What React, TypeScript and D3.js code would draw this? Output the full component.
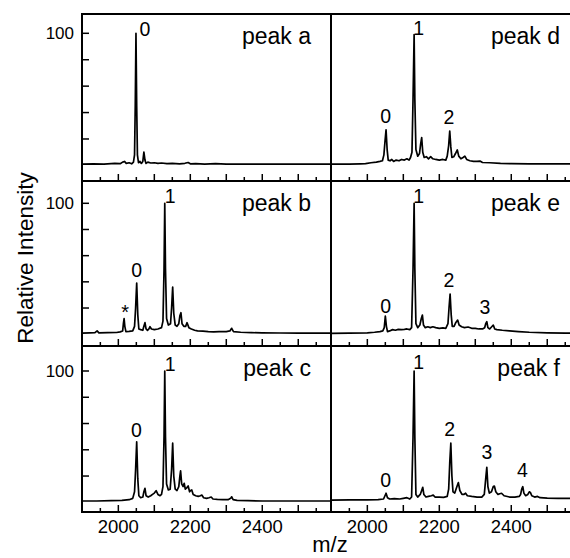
import React from "react";
import * as d3 from "d3";

// ---------- data (m/z, relative intensity) ----------
const spectrumA: [number, number][] = [
  [1900, 1], [1930, 1.2], [1960, 1], [1990, 1.5], [2005, 1.3], [2012, 2.5], [2017, 3], [2022, 1.5],
  [2030, 2], [2037, 1.2], [2042, 2.5], [2045, 8], [2047, 45], [2049, 100], [2051, 45], [2053, 8],
  [2056, 2], [2060, 3], [2064, 1.5], [2068, 3], [2071, 10], [2074, 4], [2077, 1.5], [2082, 2.5],
  [2090, 1.8], [2100, 2], [2110, 1.5], [2120, 1.8], [2135, 1.3], [2150, 1.5], [2170, 1.2], [2185, 1.6],
  [2194, 2.2], [2200, 1.2], [2215, 1.4], [2240, 1], [2270, 1.3], [2300, 1], [2350, 1], [2400, 0.9],
  [2450, 1], [2500, 1], [2600, 1],
];

const spectrumB: [number, number][] = [
  [1900, 0.8], [1920, 1], [1935, 1.2], [1941, 2.5], [1946, 1], [1970, 1.2], [1995, 1.3], [2005, 1.8],
  [2012, 2.5], [2014, 8], [2016, 12], [2018, 6], [2021, 2], [2030, 2.2], [2040, 2.5], [2045, 6],
  [2048, 20], [2051, 39], [2054, 15], [2057, 4], [2062, 3.5], [2068, 3], [2071, 6], [2074, 8.8],
  [2077, 4], [2081, 3], [2085, 4], [2088, 5.7], [2092, 4], [2100, 3.5], [2110, 4], [2120, 5],
  [2124, 10], [2127, 50], [2129, 100], [2131, 50], [2134, 12], [2139, 7], [2145, 8], [2148, 20],
  [2151, 36], [2154, 16], [2158, 7], [2163, 6], [2168, 8], [2171, 14], [2174, 16.4], [2177, 8],
  [2182, 6], [2187, 6], [2191, 8.8], [2196, 5], [2203, 4], [2212, 3], [2220, 2.5], [2235, 2.3],
  [2250, 2], [2265, 1.8], [2280, 2], [2300, 2], [2310, 2.5], [2315, 4.5], [2320, 2], [2340, 1.5],
  [2370, 1.2], [2400, 1], [2450, 0.9], [2500, 0.8], [2600, 0.8],
];

const spectrumC: [number, number][] = [
  [1900, 1], [1940, 1], [1980, 1.2], [2010, 1.5], [2030, 2], [2040, 3], [2045, 8], [2048, 25],
  [2051, 46], [2054, 18], [2057, 5], [2062, 3.5], [2068, 4], [2071, 8], [2074, 10.7], [2077, 5],
  [2083, 4], [2090, 5], [2095, 6], [2100, 7], [2105, 8.8], [2110, 6], [2116, 5], [2120, 6],
  [2124, 12], [2127, 50], [2129, 100], [2131, 50], [2134, 14], [2139, 9.4], [2144, 10], [2148, 25],
  [2151, 45], [2154, 20], [2158, 10], [2163, 9], [2168, 12], [2171, 20], [2173, 24], [2176, 14],
  [2180, 12], [2183, 14.5], [2186, 10], [2190, 11], [2194, 12.4], [2198, 8], [2201, 9], [2204, 9.4],
  [2208, 6], [2215, 5], [2222, 4.5], [2228, 5], [2232, 5.5], [2237, 3.5], [2245, 3], [2252, 3.5],
  [2258, 4], [2263, 2.5], [2275, 2.2], [2290, 2], [2305, 2], [2312, 3], [2315, 4.2], [2319, 2],
  [2330, 1.5], [2360, 1.2], [2400, 1], [2450, 1], [2500, 1], [2600, 1],
];

const spectrumD: [number, number][] = [
  [1900, 1], [1950, 1], [1980, 1.2], [1995, 1.3], [2010, 2], [2025, 2.5], [2035, 3], [2042, 3.5],
  [2046, 8], [2049, 18], [2052, 27], [2055, 12], [2058, 4], [2063, 3.5], [2068, 4.5], [2073, 3],
  [2080, 4], [2088, 3.5], [2095, 4.5], [2103, 4], [2110, 5], [2116, 4], [2120, 6], [2124, 10],
  [2127, 50], [2130, 99], [2132, 50], [2135, 12], [2140, 7], [2145, 9], [2148, 16], [2151, 21],
  [2154, 10], [2158, 6], [2164, 6.6], [2170, 5], [2176, 6.6], [2182, 5], [2190, 4.5], [2200, 4],
  [2210, 4.5], [2218, 4], [2222, 7], [2226, 15], [2229, 26], [2232, 14], [2235, 6], [2240, 6.5],
  [2245, 9], [2250, 11.7], [2254, 7], [2260, 5], [2266, 6], [2271, 7], [2276, 4.5], [2285, 3.5],
  [2295, 3], [2305, 3], [2313, 3.3], [2320, 2.2], [2340, 2], [2370, 1.5], [2400, 1.3], [2450, 1.2],
  [2500, 1.1], [2600, 1.1],
];

const spectrumE: [number, number][] = [
  [1900, 0.7], [1950, 0.8], [2000, 1], [2020, 1.5], [2035, 2], [2043, 2.5], [2047, 5], [2050, 13.9],
  [2053, 6], [2056, 2], [2062, 2.5], [2070, 3.5], [2078, 3], [2086, 3.7], [2095, 3.5], [2103, 3.7],
  [2110, 4], [2118, 3.5], [2123, 5], [2127, 50], [2130, 100], [2132, 50], [2135, 8], [2140, 5],
  [2146, 7], [2150, 12], [2153, 14.6], [2156, 7], [2161, 5], [2168, 5.7], [2175, 5], [2182, 5.7],
  [2190, 5], [2200, 4.5], [2210, 4.8], [2218, 4.5], [2224, 8], [2227, 20], [2230, 30.7], [2233, 15],
  [2236, 6], [2241, 6], [2246, 9], [2251, 10.8], [2255, 7], [2262, 5.7], [2270, 5], [2280, 5.5],
  [2290, 4.5], [2300, 4.5], [2310, 4], [2320, 4], [2326, 5], [2329, 8], [2332, 9.5], [2335, 5],
  [2340, 4], [2345, 5.5], [2350, 7], [2354, 4], [2360, 3.5], [2375, 3], [2395, 2.5], [2420, 2],
  [2450, 1.5], [2500, 1], [2550, 0.8], [2600, 0.7],
];

const spectrumF: [number, number][] = [
  [1900, 1.7], [1950, 1.8], [2000, 1.8], [2030, 2], [2045, 2.5], [2049, 5], [2052, 6.9], [2056, 3.5],
  [2062, 2.5], [2075, 2.8], [2090, 2.5], [2100, 3], [2110, 3.5], [2118, 2.5], [2123, 4], [2127, 50],
  [2130, 100], [2132, 50], [2135, 6], [2140, 4], [2147, 6], [2151, 9], [2154, 11.4], [2157, 6],
  [2163, 4], [2170, 4.5], [2178, 5], [2183, 5.5], [2188, 4], [2200, 4], [2212, 3.8], [2222, 4.5],
  [2226, 10], [2229, 30], [2232, 45], [2235, 20], [2238, 8], [2243, 7], [2249, 12], [2253, 15],
  [2257, 9], [2263, 6], [2268, 6], [2273, 6.9], [2278, 5], [2290, 4.5], [2305, 4], [2318, 4],
  [2325, 6], [2329, 18], [2332, 26.7], [2335, 12], [2339, 7], [2345, 8], [2350, 12], [2353, 12.4],
  [2357, 8], [2363, 6], [2368, 6.5], [2373, 6.9], [2380, 5], [2395, 4], [2410, 4], [2422, 4.5],
  [2426, 6], [2429, 10], [2432, 11.9], [2435, 7], [2440, 5], [2446, 6], [2450, 8], [2453, 7.5],
  [2457, 5], [2465, 4], [2473, 4.5], [2480, 3.5], [2500, 3.2], [2530, 3], [2560, 3], [2600, 3],
];

// peak annotations: [label, m/z, intensity of label baseline]
const labelsA: [string, number, number][] = [["0", 2074, 98]];
const labelsB: [string, number, number][] = [["*", 2019, 11.5], ["0", 2051, 43.4], ["1", 2144, 100]];
const labelsC: [string, number, number][] = [["0", 2050, 49.5], ["1", 2144, 100.3]];
const labelsD: [string, number, number][] = [["0", 2051, 31.9], ["1", 2143, 98.7], ["2", 2227, 31.3]];
const labelsE: [string, number, number][] = [["0", 2051, 16.4], ["1", 2143, 100.4], ["2", 2227, 36.3], ["3", 2327, 15.4]];
const labelsF: [string, number, number][] = [["0", 2051, 11.9], ["1", 2143, 101.3], ["2", 2229, 50.5], ["3", 2332, 32.8], ["4", 2431, 19]];

const panelNames = ["peak a", "peak b", "peak c", "peak d", "peak e", "peak f"];
const xTickLabels = [2000, 2200, 2400];
const xTickValues = [1950, 2000, 2050, 2100, 2150, 2200, 2250, 2300, 2350, 2400, 2450, 2500, 2550];
const yTickValues = [20, 40, 60, 80, 100];
const yLabelValues = [100];
const xDomain: [number, number] = [1899, 2591];

// ---------- layout ----------
const W = 570;
const H = 558;
const colX = [82, 331, 580];
const rowY = [14, 181, 346, 512];
const rowZero = [165.4, 334.2, 502.3];
const rowHundred = [33.3, 203.3, 371];
const FONT = "'Liberation Sans', Arial, Helvetica, sans-serif";

const spectra = [spectrumA, spectrumB, spectrumC, spectrumD, spectrumE, spectrumF];
const labels = [labelsA, labelsB, labelsC, labelsD, labelsE, labelsF];

export default function App() {
  const panels = spectra.map((data, i) => {
    const col = Math.floor(i / 3);
    const row = i % 3;
    const x0 = colX[col];
    const x1 = colX[col + 1];
    const top = rowY[row];
    const bottom = rowY[row + 1];
    const x = d3.scaleLinear().domain(xDomain).range([x0, x1]);
    const y = d3.scaleLinear().domain([0, 100]).range([rowZero[row], rowHundred[row]]);
    const line = d3
      .line<[number, number]>()
      .x((d) => x(d[0]))
      .y((d) => y(d[1]))
      .curve(d3.curveLinear);
    return { i, col, row, x0, x1, top, bottom, x, y, path: line(data) || "" };
  });

  return (
    <svg
      width={W}
      height={H}
      style={{ position: "absolute", left: 0, top: 0, background: "#fff" }}
      fontFamily={FONT}
    >
      <rect x={0} y={0} width={W} height={H} fill="#fff" />
      <defs>
        {panels.map((p) => (
          <clipPath id={`clip${p.i}`} key={p.i}>
            <rect x={p.x0} y={p.top} width={p.x1 - p.x0} height={p.bottom - p.top} />
          </clipPath>
        ))}
      </defs>
      {panels.map((p) => (
        <g key={p.i}>
          <path
            d={p.path}
            fill="none"
            stroke="#000"
            strokeWidth={1.7}
            strokeLinejoin="round"
            clipPath={`url(#clip${p.i})`}
          />
          {/* bottom ticks, inward */}
          {xTickValues.map((v) => (
            <line
              key={v}
              x1={p.x(v)}
              x2={p.x(v)}
              y1={p.bottom}
              y2={p.bottom - (v % 100 === 0 ? 7 : 4)}
              stroke="#000"
              strokeWidth={1.5}
            />
          ))}
          {/* left ticks for left column */}
          {p.col === 0 &&
            yTickValues.map((v) => (
              <line key={v} x1={p.x0} x2={p.x0 + 7} y1={p.y(v)} y2={p.y(v)} stroke="#000" strokeWidth={1.5} />
            ))}
          {p.col === 0 &&
            yLabelValues.map((v) => (
              <text key={v} x={p.x0 - 8} y={p.y(v) + 6} textAnchor="end" fontSize={17}>
                {v}
              </text>
            ))}
          {/* bottom tick labels */}
          {p.row === 2 &&
            xTickLabels.map((v) => (
              <text key={v} x={p.x(v)} y={533} textAnchor="middle" fontSize={18.5}>
                {v}
              </text>
            ))}
          {/* panel name */}
          <text x={p.x1 - 20} y={p.top + 29.5} textAnchor="end" fontSize={23}>
            {panelNames[p.i]}
          </text>
          {/* peak labels */}
          {labels[p.i].map(([t, mz, v], k) => (
            <text key={k} x={p.x(mz)} y={p.y(v)} textAnchor="middle" fontSize={t === "*" ? 20 : 19.5}>
              {t}
            </text>
          ))}
        </g>
      ))}
      {/* frame lines */}
      {rowY.map((yy, k) => (
        <line key={`h${k}`} x1={colX[0] - 1} x2={colX[2]} y1={yy} y2={yy} stroke="#000" strokeWidth={2} />
      ))}
      {colX.map((xx, k) => (
        <line key={`v${k}`} x1={xx} x2={xx} y1={rowY[0] - 1} y2={rowY[3] + 1} stroke="#000" strokeWidth={2} />
      ))}
      {/* axis titles */}
      <text x={330} y={552} textAnchor="middle" fontSize={22}>
        m/z
      </text>
      <text transform="translate(32.5,258) rotate(-90)" textAnchor="middle" fontSize={22.5}>
        Relative Intensity
      </text>
    </svg>
  );
}
